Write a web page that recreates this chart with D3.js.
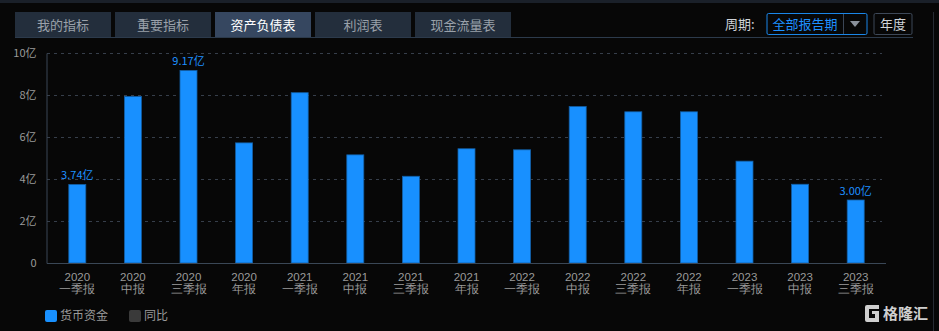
<!DOCTYPE html>
<html>
<head>
<meta charset="utf-8">
<script src="https://cdn.jsdelivr.net/npm/d3@7"></script>
<style>
  html, body { margin: 0; padding: 0; background: #070707; }
  svg { display: block; font-family: "Noto Sans CJK SC", "Noto Sans", sans-serif; }
</style>
</head>
<body>
<svg id="chart"></svg>
<script>
// 报告期与货币资金（亿元）
const years = ["2020", "2020", "2020", "2020", "2021", "2021", "2021", "2021",
               "2022", "2022", "2022", "2022", "2023", "2023", "2023"];
const periods = ["一季报", "中报", "三季报", "年报", "一季报", "中报", "三季报", "年报",
                 "一季报", "中报", "三季报", "年报", "一季报", "中报", "三季报"];
const cash = [3.74, 7.93, 9.17, 5.72, 8.11, 5.15, 4.13, 5.44,
              5.39, 7.45, 7.20, 7.20, 4.85, 3.75, 3.00];
const yTicks = [0, 2, 4, 6, 8, 10];
const tabs = ["我的指标", "重要指标", "资产负债表", "利润表", "现金流量表"];
const activeTab = 2;
const legendItems = [{ name: "货币资金", color: "#1890ff" }, { name: "同比", color: "#3a3a3a" }];

const W = 939, H = 331;
const margin = { top: 53, right: 53, bottom: 68, left: 47 };

const svg = d3.select("#chart").attr("width", W).attr("height", H);
svg.append("rect").attr("width", W).attr("height", H).attr("fill", "#070707");

// 顶部细条与右侧分隔线
svg.append("rect").attr("x", 0).attr("y", 0).attr("width", W).attr("height", 3).attr("fill", "#1a2029");
svg.append("line").attr("x1", 933.5).attr("x2", 933.5).attr("y1", 12).attr("y2", H)
    .attr("stroke", "#262b33");

// 标签页
const tabG = svg.append("g");
tabG.append("line").attr("x1", 15).attr("x2", 913).attr("y1", 37.5).attr("y2", 37.5)
    .attr("stroke", "#2c3a4b");
tabs.forEach((t, i) => {
    const x = 15 + i * 100;
    tabG.append("rect").attr("x", x).attr("y", 12).attr("width", 96).attr("height", 25)
        .attr("fill", i === activeTab ? "#364760" : "#232e3c");
    tabG.append("text").attr("x", x + 48).attr("y", 25).attr("dy", "0.35em")
        .attr("text-anchor", "middle").attr("font-size", 13)
        .attr("fill", i === activeTab ? "#ffffff" : "#9aa1aa").text(t);
});

// 周期选择
const sel = svg.append("g");
sel.append("text").attr("x", 725).attr("y", 24).attr("dy", "0.35em")
    .attr("font-size", 13).attr("fill", "#cfd3d8").text("周期:");
sel.append("rect").attr("x", 767).attr("y", 13.5).attr("width", 100).attr("height", 21).attr("rx", 1.5)
    .attr("fill", "none").attr("stroke", "#1a86e8");
sel.append("text").attr("x", 805).attr("y", 24).attr("dy", "0.35em").attr("text-anchor", "middle")
    .attr("font-size", 13).attr("fill", "#1e90ff").text("全部报告期");
sel.append("line").attr("x1", 843.5).attr("x2", 843.5).attr("y1", 14).attr("y2", 34).attr("stroke", "#3b4656");
sel.append("path").attr("d", "M850,21 L860,21 L855,27 Z").attr("fill", "#8a919b");
sel.append("rect").attr("x", 874).attr("y", 13.5).attr("width", 38).attr("height", 21).attr("rx", 1.5)
    .attr("fill", "none").attr("stroke", "#3d4858");
sel.append("text").attr("x", 893).attr("y", 24).attr("dy", "0.35em").attr("text-anchor", "middle")
    .attr("font-size", 13).attr("fill", "#d0d4d9").text("年度");

// 比例尺
const x = d3.scaleBand().domain(d3.range(cash.length))
    .range([margin.left + 2.5, W - margin.right - 2.5]).paddingInner(0.694).paddingOuter(0.347);
const y = d3.scaleLinear().domain([0, 10]).range([H - margin.bottom, margin.top]);

const plot = svg.append("g");

// 网格线
plot.selectAll(".grid").data(yTicks.filter(d => d > 0)).join("line")
    .attr("x1", margin.left).attr("x2", W - margin.right - 4)
    .attr("y1", d => Math.round(y(d)) + 0.5).attr("y2", d => Math.round(y(d)) + 0.5)
    .attr("stroke", "#363e4a").attr("stroke-dasharray", "3,4");

// Y轴
const yAxis = d3.axisLeft(y).tickValues(yTicks).tickSize(0).tickPadding(10)
    .tickFormat(d => d === 0 ? "0" : d + "亿");
const yg = plot.append("g").attr("transform", `translate(${margin.left - 0.5},0)`).call(yAxis);
yg.select(".domain").attr("stroke", "#3a4756");
yg.selectAll("text").attr("fill", "#9a9a9a").attr("font-size", 11)
    .style("font-family", "\"Noto Sans CJK SC\", sans-serif");

// 柱子
plot.selectAll(".bar").data(cash).join("rect")
    .attr("x", (d, i) => x(i)).attr("width", x.bandwidth())
    .attr("y", d => y(d)).attr("height", d => y(0) - y(d))
    .attr("fill", "#1890ff").attr("stroke", "#135ea3").attr("stroke-width", 0.8);

// X轴：年份 + 报告期两行
const xAxis = d3.axisBottom(x).tickSize(0).tickFormat("");
const xg = plot.append("g").attr("transform", `translate(0,${y(0) + 0.5})`).call(xAxis);
xg.select(".domain").attr("stroke", "#3a4756").attr("d", `M${margin.left},0H${W - margin.right}`);
xg.selectAll(".tick").each(function (d) {
    const t = d3.select(this);
    t.select("text").remove();
    t.append("text").attr("y", 13.5).attr("dy", "0.35em").attr("text-anchor", "middle")
        .attr("font-size", 11.5).attr("fill", "#9a9a9a").text(years[d]);
    t.append("text").attr("y", 25.5).attr("dy", "0.35em").attr("text-anchor", "middle")
        .attr("font-size", 11.5).attr("fill", "#9a9a9a").text(periods[d]);
});

// 数值标注：首、末与最大值
const maxIdx = cash.indexOf(d3.max(cash));
const labelIdx = [0, maxIdx, cash.length - 1];
plot.selectAll(".vlabel").data(labelIdx).join("text")
    .attr("x", i => x(i) + x.bandwidth() / 2).attr("y", i => y(cash[i]) - 5)
    .attr("text-anchor", "middle").attr("font-size", 11).attr("fill", "#1e90ff")
    .text(i => cash[i].toFixed(2) + "亿");

// 图例
const lg = svg.append("g").attr("transform", "translate(45,310)");
legendItems.forEach((it, i) => {
    const g = lg.append("g").attr("transform", `translate(${i * 84},0)`);
    g.append("rect").attr("width", 12).attr("height", 12).attr("rx", 2).attr("fill", it.color);
    g.append("text").attr("x", 15).attr("y", 6).attr("dy", "0.35em").attr("font-size", 12)
        .attr("fill", "#9a9a9a").text(it.name);
});

// 水印
const wm = svg.append("g").attr("transform", "translate(865,305)");
wm.append("path")
    .attr("d", "M0,2 Q0,0 2,0 H14 V4 H4 V13 H10 V9 H7 V6 H14 V17 H2 Q0,17 0,15 Z")
    .attr("fill", "#cfcfcf");
wm.append("text").attr("x", 18).attr("y", 9).attr("dy", "0.36em").attr("font-size", 15)
    .attr("font-weight", "bold").attr("fill", "#cfcfcf").text("格隆汇");
</script>
</body>
</html>
